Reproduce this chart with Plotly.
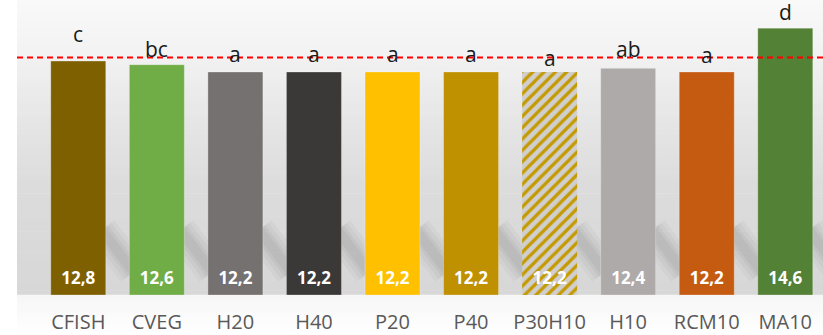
import plotly.graph_objects as go

# ---- data ----
categories = ["CFISH", "CVEG", "H20", "H40", "P20", "P40", "P30H10", "H10", "RCM10", "MA10"]
values = [12.8, 12.6, 12.2, 12.2, 12.2, 12.2, 12.2, 12.4, 12.2, 14.6]
letters = ["c", "bc", "a", "a", "a", "a", "a", "ab", "a", "d"]
letter_height = [14.28, 13.46, 13.18, 13.18, 13.18, 13.18, 12.96, 13.46, 13.13, 15.48]
reference_level = 13.0

bar_colors = ["#7f6000", "#70ad47", "#767171", "#3b3838", "#ffc000",
              "#bf9000", "#d0cece", "#aeaaaa", "#c55a11", "#538135"]
striped = ["P30H10"]

W, H = 823, 335
ML, MB = 39, 40
PLOT_W, PLOT_H = W - ML, H - MB
Y_MAX = 16.14
X_RANGE = [-0.5, 9.48]

x = list(range(len(categories)))
solid_idx = [i for i, c in enumerate(categories) if c not in striped]
stripe_idx = [i for i, c in enumerate(categories) if c in striped]

fig = go.Figure()

fig.add_trace(go.Bar(
    x=solid_idx, y=[values[i] for i in solid_idx], width=0.7,
    marker=dict(color=[bar_colors[i] for i in solid_idx],
                line=dict(width=0.8, color="rgba(255,255,255,0.35)")),
    hoverinfo="skip",
))
for i in stripe_idx:
    fig.add_trace(go.Bar(
        x=[i], y=[values[i]], width=0.7,
        marker=dict(color=bar_colors[i], line=dict(width=0),
                    pattern=dict(shape="/", fgcolor="#c49a00", bgcolor=bar_colors[i],
                                 fgopacity=1, size=8, solidity=0.4,
                                 fillmode="replace")),
        hoverinfo="skip",
    ))

# value labels near the base of each bar
fig.add_trace(go.Scatter(
    x=x, y=[0.85] * len(x), mode="text",
    text=[f"{v:.1f}".replace(".", ",") for v in values],
    textfont=dict(family="Open Sans", size=17, color="white", weight="bold"),
    hoverinfo="skip",
))

shapes = []

# vertical gradient of the back panel
def mix(c1, c2, t):
    return tuple(int(round(a + (b - a) * t)) for a, b in zip(c1, c2))

stops = [(0, (249, 249, 249)), (50, (243, 243, 243)), (120, (230, 230, 230)),
         (185, (220, 220, 220)), (295, (215, 215, 215))]
panel_x0 = (17 - ML) / PLOT_W
n = 70
for k in range(n):
    p0 = PLOT_H * k / n
    p1 = PLOT_H * (k + 1) / n
    pm = (p0 + p1) / 2
    for (a, ca), (b, cb) in zip(stops[:-1], stops[1:]):
        if a <= pm <= b:
            c = mix(ca, cb, (pm - a) / (b - a))
            break
    shapes.append(dict(type="rect", xref="paper", yref="paper",
                       x0=panel_x0, x1=1.02, y0=1 - p1 / PLOT_H, y1=1 - p0 / PLOT_H + 0.002,
                       line=dict(width=0), fillcolor="rgb(%d,%d,%d)" % c, layer="below"))
# floor below the baseline, fading to white
m = 12
for k in range(m):
    p0 = MB * k / m
    p1 = MB * (k + 1) / m
    c = mix((246, 246, 246), (255, 255, 255), (k + 0.5) / m)
    shapes.append(dict(type="rect", xref="paper", yref="paper",
                       x0=panel_x0, x1=1.02, y0=-p1 / PLOT_H, y1=-p0 / PLOT_H + 0.001,
                       line=dict(width=0), fillcolor="rgb(%d,%d,%d)" % c, layer="below"))

# soft diagonal shadows cast by the bars
px_x = PLOT_W / (X_RANGE[1] - X_RANGE[0])
px_y = PLOT_H / Y_MAX
for i in x:
    xr = i + 0.35
    for w, a in [(32, 0.05), (24, 0.06), (16, 0.07), (10, 0.08)]:
        shapes.append(dict(type="line", xref="x", yref="y",
                           x0=xr - 4 / px_x, y0=(295 - 230) / px_y,
                           x1=xr + 28 / px_x, y1=(295 - 272) / px_y,
                           line=dict(color=f"rgba(100,100,100,{a})", width=w),
                           layer="below"))

# dashed reference line
shapes.append(dict(type="line", xref="paper", yref="y", x0=panel_x0, x1=1,
                   y0=reference_level, y1=reference_level,
                   line=dict(color="#ff0000", width=2, dash="6px,4px")))

annotations = []
for i, (lt, hy) in enumerate(zip(letters, letter_height)):
    annotations.append(dict(x=i, y=hy, xref="x", yref="y", text=lt, showarrow=False,
                            yanchor="middle",
                            font=dict(family="Open Sans", size=21, color="#1a1a1a")))
# chart title (runs off the top edge)
annotations.append(dict(x=(446 - ML) / PLOT_W, y=1, xref="paper", yref="paper",
                        xanchor="left", yanchor="bottom", yshift=-1,
                        text="g/kg, dry matter", showarrow=False,
                        font=dict(family="Open Sans", size=26, color="#595959")))

fig.update_layout(
    width=W, height=H,
    margin=dict(l=ML, r=0, t=0, b=MB, autoexpand=False),
    paper_bgcolor="white", plot_bgcolor="rgba(0,0,0,0)",
    showlegend=False, barmode="overlay",
    shapes=shapes, annotations=annotations,
    xaxis=dict(range=X_RANGE, tickmode="array", tickvals=x, ticktext=categories,
               showgrid=False, zeroline=False, showline=False, ticks="",
               automargin=False, ticklabelstandoff=13,
               tickfont=dict(family="Open Sans", size=20, color="#595959")),
    yaxis=dict(range=[0, Y_MAX], visible=False, showgrid=False, zeroline=False,
               automargin=False),
)

fig.write_html("out.html")
